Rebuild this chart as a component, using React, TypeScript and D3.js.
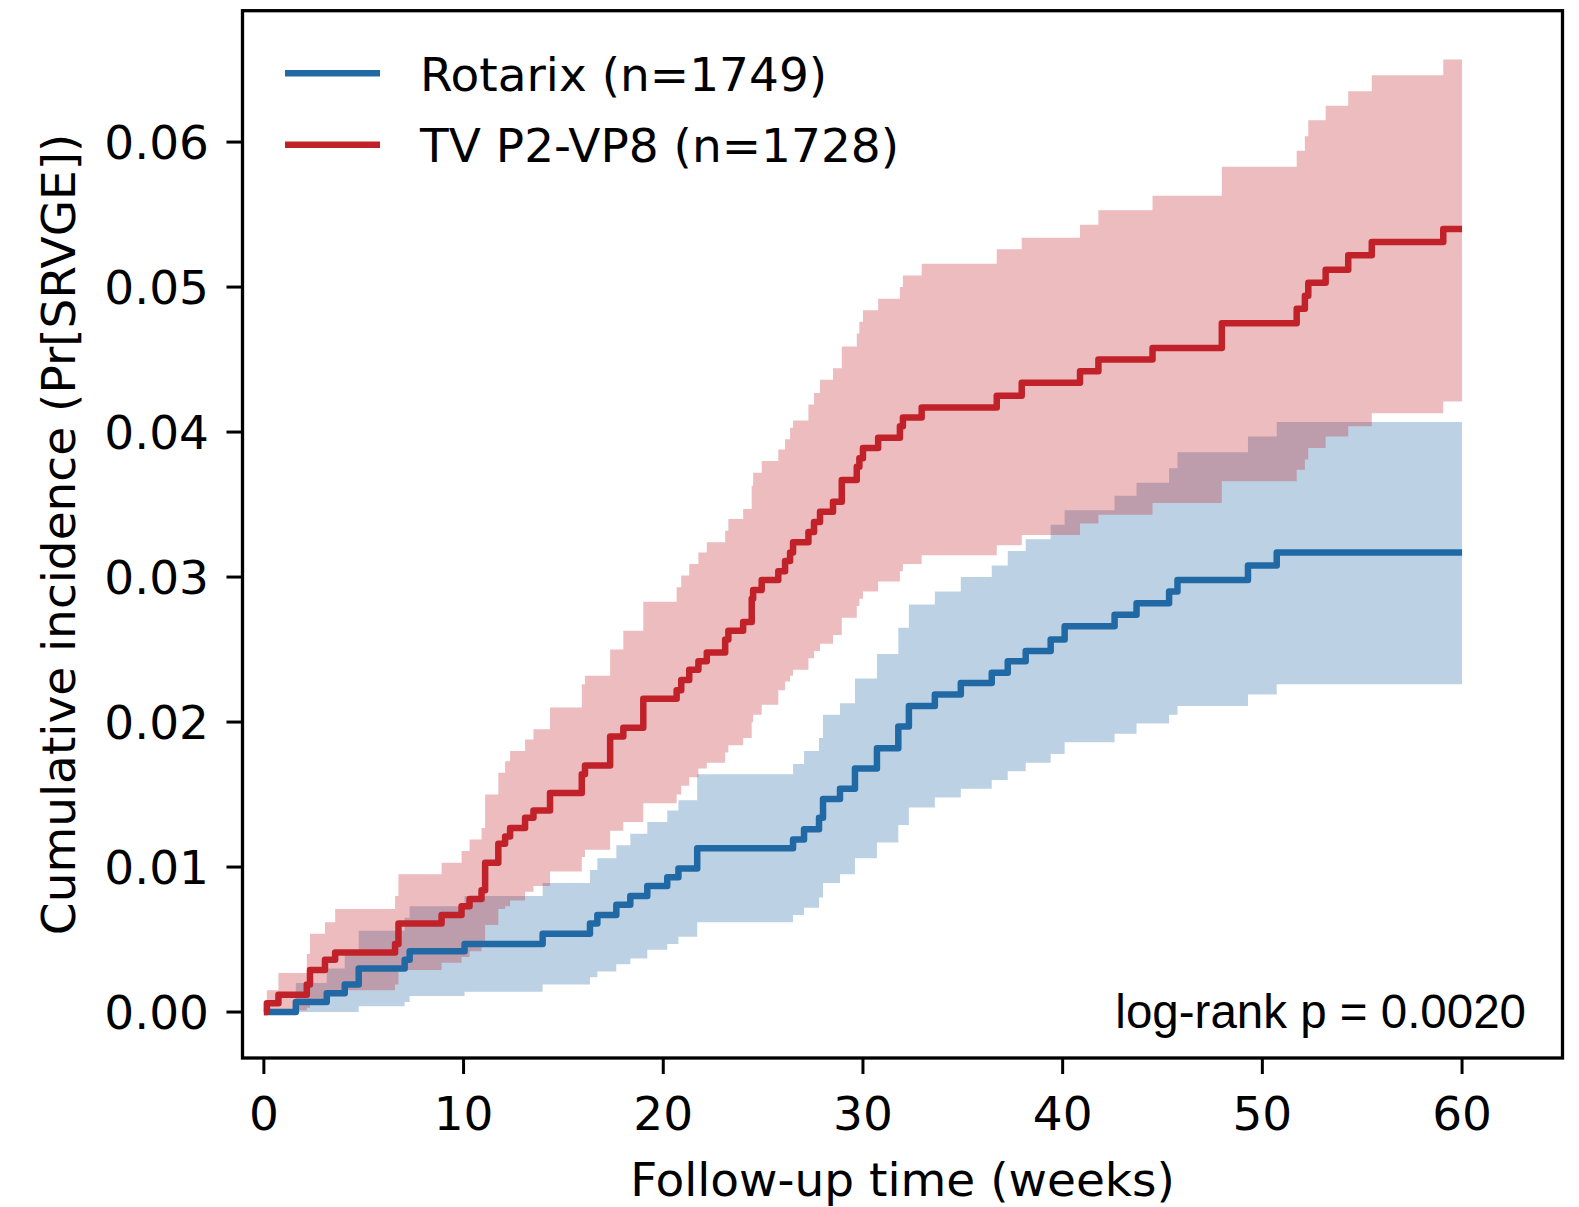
import React from 'react';
import * as d3 from 'd3';

const W = 1579;
const H = 1207;

// axis domains & ticks
const xDomain: [number, number] = [-1.07, 65.03];
const yDomain: [number, number] = [-0.00317, 0.06906];
const xTicks = [0, 10, 20, 30, 40, 50, 60];
const yTicks = [0, 0.01, 0.02, 0.03, 0.04, 0.05, 0.06];
const followUpEnd = 60;

// Rotarix (n=1749)
const rotarixTime = [0, 1.6, 3.15, 4.05, 4.75, 7.05, 7.3, 10.05, 13.96, 16.33, 16.7, 17.65, 18.35, 19.2, 20.2, 20.76, 21.7, 26.5, 27.05, 27.8, 28.0, 28.85, 29.6, 30.7, 31.77, 32.3, 33.6, 34.9, 36.45, 37.25, 38.15, 39.4, 40.1, 42.6, 43.7, 45.33, 45.75, 49.28, 50.72];
const rotarixEst = [0, 0.0007, 0.0013, 0.0019, 0.0030, 0.0036, 0.0042, 0.0047, 0.0054, 0.0061, 0.0067, 0.0074, 0.0080, 0.0087, 0.0093, 0.0099, 0.0113, 0.0119, 0.0126, 0.0134, 0.0147, 0.0154, 0.0168, 0.0182, 0.0197, 0.0211, 0.0219, 0.0227, 0.0234, 0.0242, 0.0249, 0.0257, 0.0266, 0.0274, 0.0282, 0.0290, 0.0298, 0.0308, 0.0317];
const rotarixLow = [0, 0, 0, 0, 0.0004, 0.0007, 0.0011, 0.0014, 0.0019, 0.0024, 0.0028, 0.0033, 0.0037, 0.0043, 0.0047, 0.0052, 0.0062, 0.0067, 0.0072, 0.0079, 0.0089, 0.0095, 0.0106, 0.0117, 0.0129, 0.0141, 0.0148, 0.0154, 0.0160, 0.0166, 0.0172, 0.0178, 0.0186, 0.0192, 0.0199, 0.0205, 0.0211, 0.0219, 0.0226];
const rotarixHigh = [0, 0.0020, 0.0030, 0.0040, 0.0056, 0.0065, 0.0073, 0.0080, 0.0089, 0.0098, 0.0106, 0.0115, 0.0123, 0.0131, 0.0139, 0.0146, 0.0164, 0.0171, 0.0180, 0.0189, 0.0205, 0.0213, 0.0230, 0.0247, 0.0265, 0.0281, 0.0290, 0.0300, 0.0308, 0.0318, 0.0326, 0.0336, 0.0346, 0.0356, 0.0365, 0.0375, 0.0386, 0.0397, 0.0407];

// TV P2-VP8 (n=1728)
const tvTime = [0, 0.15, 0.73, 2.15, 2.31, 3.06, 3.57, 6.57, 6.74, 8.9, 9.9, 10.3, 10.9, 11.08, 11.74, 12.08, 12.33, 13.08, 13.5, 14.33, 15.92, 16.08, 17.34, 18.0, 19.0, 20.67, 20.9, 21.3, 21.76, 22.18, 23.1, 23.26, 24.0, 24.43, 24.5, 24.93, 25.76, 26.1, 26.35, 26.5, 27.27, 27.55, 27.85, 28.5, 28.94, 29.69, 29.82, 30.0, 30.76, 31.85, 32.0, 32.94, 36.7, 37.95, 40.87, 41.79, 44.5, 47.97, 51.72, 52.13, 52.3, 53.17, 54.3, 55.48, 59.06];
const tvEst = [0, 0.0006, 0.0012, 0.0019, 0.0029, 0.0036, 0.0041, 0.0047, 0.0061, 0.0067, 0.0073, 0.0078, 0.0084, 0.0103, 0.0116, 0.0121, 0.0127, 0.0134, 0.0139, 0.0151, 0.0164, 0.0170, 0.0190, 0.0196, 0.0216, 0.0222, 0.0229, 0.0236, 0.0242, 0.0248, 0.0257, 0.0263, 0.0269, 0.0285, 0.0291, 0.0298, 0.0304, 0.0311, 0.0317, 0.0324, 0.0331, 0.0338, 0.0345, 0.0352, 0.0367, 0.0376, 0.0382, 0.0389, 0.0396, 0.0404, 0.0410, 0.0417, 0.0425, 0.0434, 0.0442, 0.0450, 0.0458, 0.0475, 0.0485, 0.0494, 0.0503, 0.0512, 0.0522, 0.0531, 0.0540];
const tvLow = [0, 0, 0.0001, 0.0003, 0.0008, 0.0012, 0.0015, 0.0019, 0.0029, 0.0034, 0.0038, 0.0042, 0.0046, 0.0060, 0.0071, 0.0073, 0.0077, 0.0083, 0.0087, 0.0097, 0.0107, 0.0112, 0.0125, 0.0131, 0.0144, 0.0150, 0.0156, 0.0162, 0.0168, 0.0172, 0.0179, 0.0184, 0.0189, 0.0200, 0.0205, 0.0212, 0.0222, 0.0228, 0.0232, 0.0236, 0.0244, 0.0249, 0.0254, 0.0260, 0.0272, 0.0280, 0.0285, 0.0290, 0.0297, 0.0304, 0.0309, 0.0315, 0.0322, 0.0329, 0.0337, 0.0343, 0.0351, 0.0366, 0.0374, 0.0381, 0.0389, 0.0397, 0.0404, 0.0413, 0.0421];
const tvHigh = [0, 0.0015, 0.0027, 0.0040, 0.0054, 0.0062, 0.0071, 0.0080, 0.0095, 0.0103, 0.0111, 0.0119, 0.0127, 0.0150, 0.0165, 0.0173, 0.0180, 0.0188, 0.0195, 0.0210, 0.0226, 0.0232, 0.0250, 0.0263, 0.0283, 0.0293, 0.0301, 0.0309, 0.0317, 0.0324, 0.0332, 0.0340, 0.0347, 0.0363, 0.0372, 0.0380, 0.0388, 0.0395, 0.0403, 0.0408, 0.0419, 0.0427, 0.0436, 0.0444, 0.0459, 0.0468, 0.0476, 0.0484, 0.0492, 0.0500, 0.0508, 0.0516, 0.0526, 0.0534, 0.0543, 0.0553, 0.0563, 0.0583, 0.0594, 0.0604, 0.0615, 0.0625, 0.0635, 0.0646, 0.0657];

const seriesNames = ['Rotarix (n=1749)', 'TV P2-VP8 (n=1728)'];
const seriesColors = ['#2069a4', '#c1222a'];

const xLabel = 'Follow-up time (weeks)';
const yLabel = 'Cumulative incidence (Pr[SRVGE])';
const pText = 'log-rank p = 0.0020';

type Pt = { t: number; e: number; lo: number; hi: number };

function buildPoints(time: number[], est: number[], low: number[], high: number[]): Pt[] {
  const pts = time.map((t, i) => ({ t, e: est[i], lo: low[i], hi: high[i] }));
  const last = pts[pts.length - 1];
  pts.push({ ...last, t: followUpEnd });
  return pts;
}

export default function App() {
  const left = 242.5, right = 1562.5, top = 10.7, bottom = 1058;
  const x = d3.scaleLinear().domain(xDomain).range([left, right]);
  const y = d3.scaleLinear().domain(yDomain).range([bottom, top]);

  const series = [
    { name: seriesNames[0], color: seriesColors[0], pts: buildPoints(rotarixTime, rotarixEst, rotarixLow, rotarixHigh) },
    { name: seriesNames[1], color: seriesColors[1], pts: buildPoints(tvTime, tvEst, tvLow, tvHigh) },
  ];

  const line = d3.line<Pt>().x(d => x(d.t)).y(d => y(d.e)).curve(d3.curveStepAfter);
  const area = d3.area<Pt>().x(d => x(d.t)).y0(d => y(d.lo)).y1(d => y(d.hi)).curve(d3.curveStepAfter);

  const font = 'DejaVu Sans';
  const fs = 47;
  const tickLen = 16;

  return (
    <svg width={W} height={H} style={{ position: 'absolute', left: 0, top: 0, display: 'block', background: '#fff' }}>
      <rect x={0} y={0} width={W} height={H} fill="#fff" />
      <defs>
        <clipPath id="plotclip">
          <rect x={left} y={top} width={right - left} height={bottom - top} />
        </clipPath>
      </defs>
      <g clipPath="url(#plotclip)">
        {series.map(s => (
          <path key={s.name + 'band'} d={area(s.pts) || ''} fill={s.color} fillOpacity={0.3} stroke="none" />
        ))}
        {series.map(s => (
          <path key={s.name + 'line'} d={line(s.pts) || ''} fill="none" stroke={s.color} strokeWidth={6.5} strokeLinejoin="round" />
        ))}
      </g>
      {/* frame */}
      <rect x={left} y={top} width={right - left} height={bottom - top} fill="none" stroke="#000" strokeWidth={3.3} />
      {/* x ticks */}
      {xTicks.map(t => (
        <g key={'xt' + t}>
          <line x1={x(t)} x2={x(t)} y1={bottom} y2={bottom + tickLen} stroke="#000" strokeWidth={3} />
          <text x={x(t)} y={1130} textAnchor="middle" fontFamily={font} fontSize={fs} fill="#000">{t}</text>
        </g>
      ))}
      {/* y ticks */}
      {yTicks.map(v => (
        <g key={'yt' + v}>
          <line x1={left - tickLen} x2={left} y1={y(v)} y2={y(v)} stroke="#000" strokeWidth={3} />
          <text x={209} y={y(v) + 17} textAnchor="end" fontFamily={font} fontSize={fs} fill="#000">{d3.format('.2f')(v)}</text>
        </g>
      ))}
      {/* axis labels */}
      <text x={(left + right) / 2} y={1196} textAnchor="middle" fontFamily={font} fontSize={fs} fill="#000">{xLabel}</text>
      <text transform={`translate(75,${(top + bottom) / 2}) rotate(-90)`} textAnchor="middle" fontFamily={font} fontSize={fs} fill="#000">{yLabel}</text>
      {/* legend */}
      {series.map((s, i) => (
        <g key={'lg' + i}>
          <line x1={285} x2={380} y1={73.2 + i * 71.5} y2={73.2 + i * 71.5} stroke={s.color} strokeWidth={6.5} />
          <text x={420} y={90.5 + i * 71.5} fontFamily={font} fontSize={fs} fill="#000">{s.name}</text>
        </g>
      ))}
      {/* p-value */}
      <text x={1526} y={1028} textAnchor="end" fontFamily="Liberation Sans, Arial" fontSize={47.5} fill="#000">{pText}</text>
    </svg>
  );
}
